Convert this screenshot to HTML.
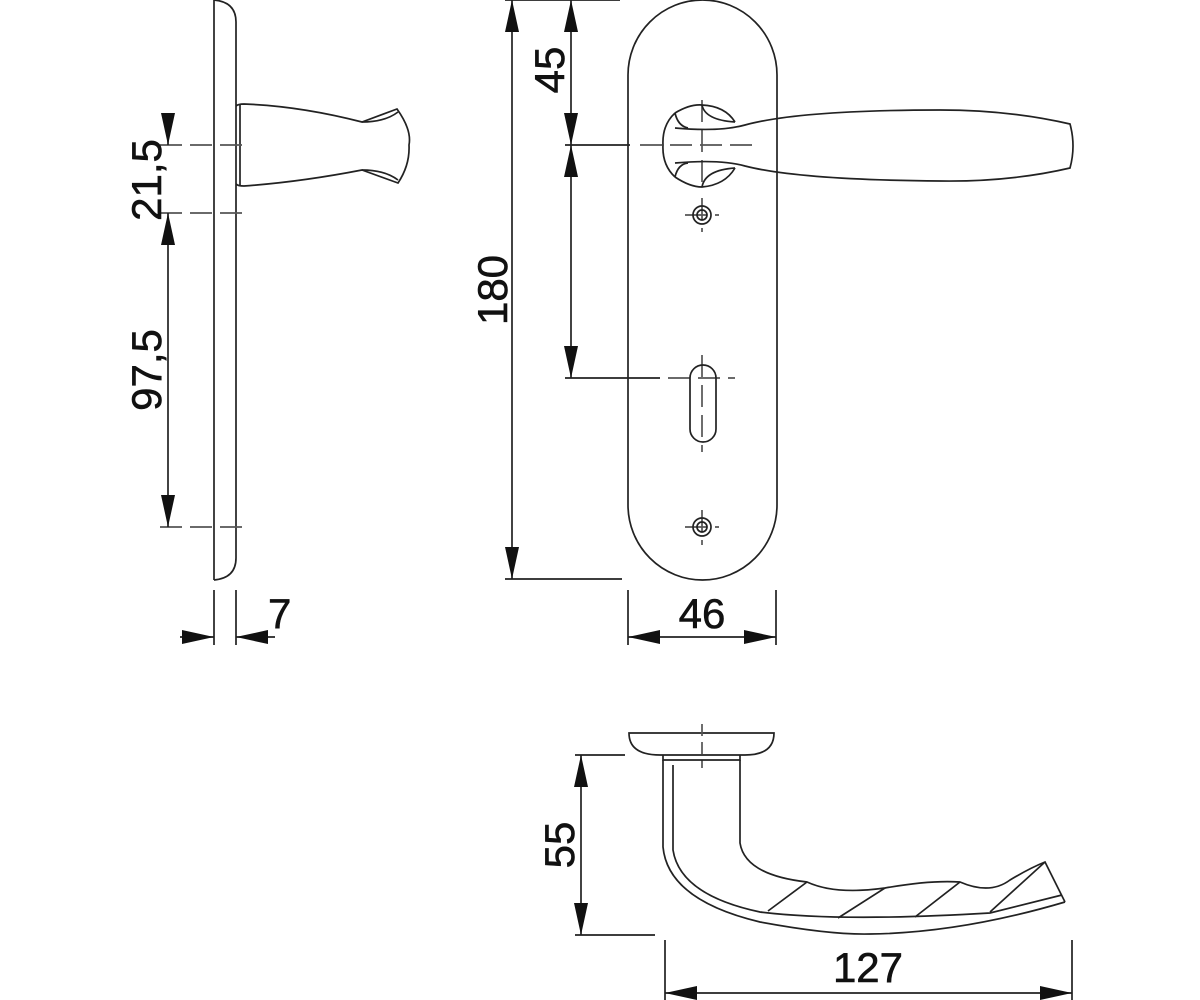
<!DOCTYPE html>
<html><head><meta charset="utf-8"><style>
html,body{margin:0;padding:0;background:#fff;width:1200px;height:1000px;overflow:hidden}
svg{display:block}
text{font-family:"Liberation Sans",Arial,sans-serif;font-size:42px;fill:#111;stroke:#111;stroke-width:0.6}
</style></head><body>
<svg width="1200" height="1000" viewBox="0 0 1200 1000" xmlns="http://www.w3.org/2000/svg">
<defs>
<marker id="a" viewBox="0 0 32 14" refX="32" refY="7" markerWidth="32" markerHeight="14" markerUnits="userSpaceOnUse" orient="auto-start-reverse"><path d="M0,0 L32,7 L0,14 Z" fill="#111"/></marker>
</defs>
<g fill="none" stroke="#222" stroke-width="1.7">
<!-- SIDE VIEW -->
<path d="M214,0 L214,580"/>
<path d="M214,0 Q236,2 236,22 L236,558 Q236,578 214,580"/>
<path d="M240,104 L240,186"/>
<path d="M236,106 Q238,104 244,104 Q300,106 362,122 L397,109 Q412,130 409,145 Q410,165 398,183 L362,170 Q300,182 244,186 Q238,186 236,184"/>
<path d="M362,122 Q385,122 398,112 M362,170 Q385,170 398,180"/>
<g stroke-dasharray="22,8" stroke="#555"><path d="M160,145 L250,145 M160,213 L250,213 M160,527 L250,527"/></g>
<path d="M168,113 L168,145" marker-end="url(#a)"/>
<path d="M168,213 L168,527" marker-start="url(#a)" marker-end="url(#a)"/>
<path d="M214,590 L214,645 M236,590 L236,645"/>
<path d="M180,637 L214,637" marker-end="url(#a)"/>
<path d="M275,637 L236,637" marker-end="url(#a)"/>

<!-- FRONT VIEW -->
<path d="M628,75 A74.5,75 0 0 1 777,75 L777,505 A74.5,75 0 0 1 628,505 Z"/>
<path d="M505,0 L620,0 M505,579 L622,579"/>
<path d="M512,0 L512,579" marker-start="url(#a)" marker-end="url(#a)"/>
<path d="M571,0 L571,145" marker-start="url(#a)" marker-end="url(#a)"/>
<path d="M571,145 L571,378" marker-start="url(#a)" marker-end="url(#a)"/>
<path d="M565,145 L630,145 M565,378 L660,378"/>
<g stroke-dasharray="22,8" stroke="#555"><path d="M640,145 L755,145 M702,100 L702,190 M702,198 L702,232 M702,355 L702,452 M668,378 L735,378 M702,510 L702,545 M685,215 L719,215 M685,527 L719,527"/></g>
<path d="M675,128 Q720,132 745,125 Q800,110 940,110 Q1010,110 1070,124 Q1076,146 1070,168 Q1010,182 940,181 Q800,180 745,166 Q720,159 675,163"/>
<path d="M675,113 Q690,104 702,105 Q725,106 735,122 M675,177 Q690,187 702,187 Q725,185 735,168"/>
<path d="M675,113 Q662,125 663,145 Q662,165 675,177"/>
<path d="M675,113 Q678,126 688,128 M675,177 Q678,164 688,163"/>
<path d="M702,105 Q705,120 735,122 M702,187 Q705,170 735,168"/>
<circle cx="702" cy="215" r="9"/><circle cx="702" cy="215" r="5"/>
<circle cx="702" cy="527" r="9"/><circle cx="702" cy="527" r="5"/>
<rect x="690" y="365" width="26" height="77" rx="13"/>
<path d="M628,590 L628,645 M776,590 L776,645"/>
<path d="M628,637 L776,637" marker-start="url(#a)" marker-end="url(#a)"/>

<!-- BOTTOM VIEW -->
<path d="M629,733 L774,733 Q774,755 745,755 L660,755 Q629,755 629,733 Z"/>
<g stroke-dasharray="12,6" stroke="#555"><path d="M702,724 L702,768"/></g>
<path d="M663,755 L663,760 L740,760 L740,755"/>
<path d="M663,760 L663,847 Q668,900 760,922 Q830,935 870,934 Q960,933 1065,902"/>
<path d="M673,765 L673,850 Q680,895 760,912 Q840,922 990,913 L1062,895"/>
<path d="M740,760 L740,843 Q745,875 807,882 Q835,895 885,888 Q930,880 960,882 Q990,895 1010,880 Q1030,868 1045,862 L1065,902"/>
<path d="M807,882 L768,911 M885,888 L838,918 M960,882 L915,917 M1045,862 L990,912"/>
<path d="M575,755 L625,755 M575,935 L655,935"/>
<path d="M581,755 L581,935" marker-start="url(#a)" marker-end="url(#a)"/>
<path d="M665,940 L665,1000 M1072,940 L1072,1000"/>
<path d="M665,993 L1072,993" marker-start="url(#a)" marker-end="url(#a)"/>
</g>
<g>
<text transform="translate(161,180) rotate(-90)" text-anchor="middle">21,5</text>
<text transform="translate(161,370) rotate(-90)" text-anchor="middle">97,5</text>
<text x="268" y="628">7</text>
<text transform="translate(507,290) rotate(-90)" text-anchor="middle">180</text>
<text transform="translate(564,70) rotate(-90)" text-anchor="middle">45</text>
<text x="702" y="628" text-anchor="middle">46</text>
<text transform="translate(574,845) rotate(-90)" text-anchor="middle">55</text>
<text x="868" y="982" text-anchor="middle">127</text>
</g>
</svg>
</body></html>
